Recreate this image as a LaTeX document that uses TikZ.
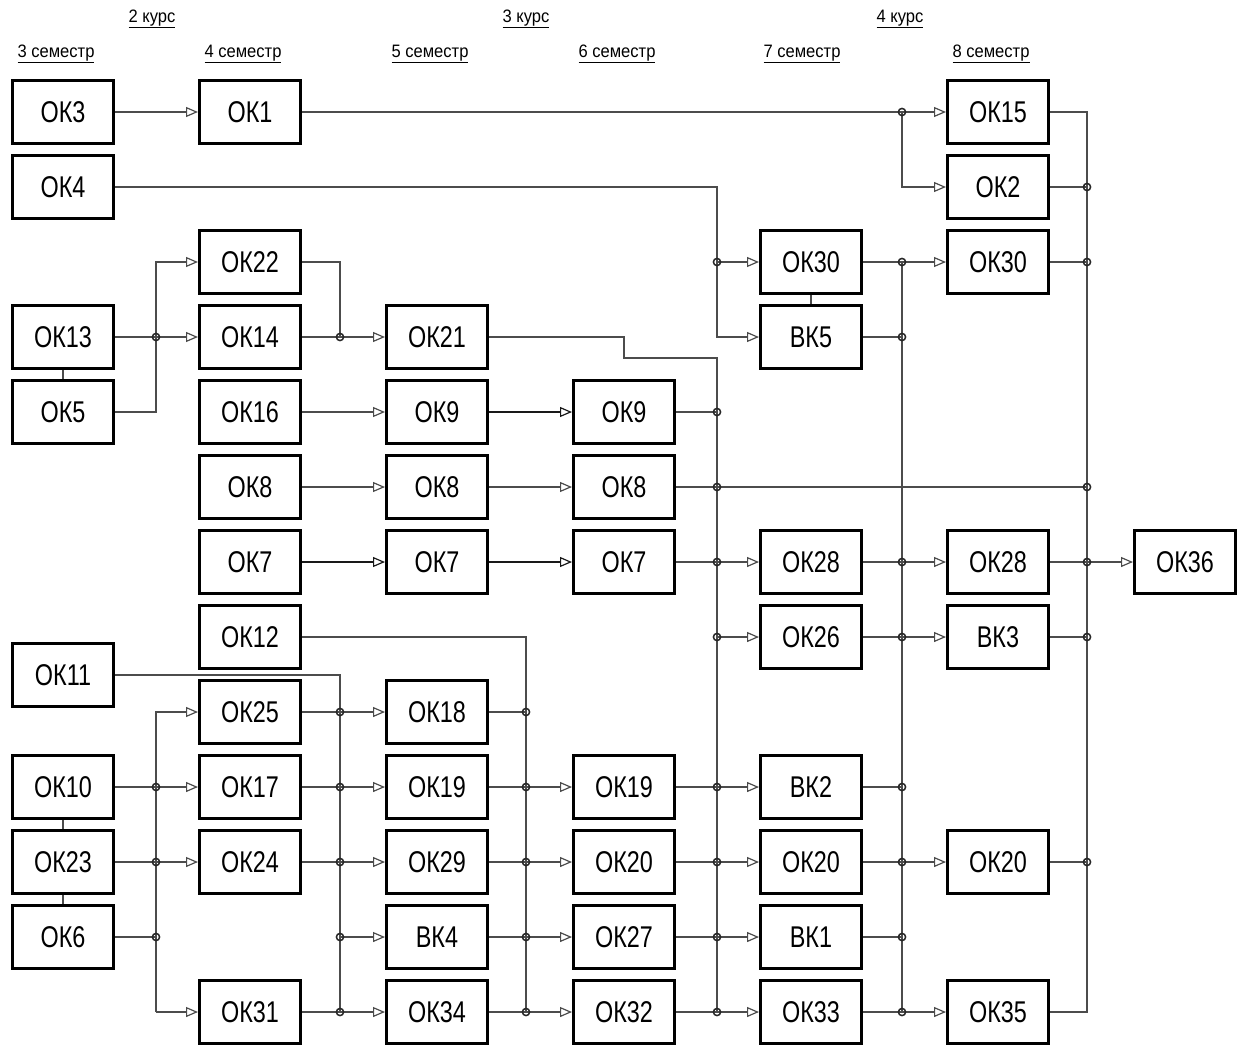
\documentclass[tikz,border=0pt]{standalone}
\usepackage{fontspec}
\setmainfont{Liberation Sans}
\newfontfamily\boxfam{Liberation Sans}[FakeStretch=0.78]
\newfontfamily\headfam{Liberation Sans}[FakeStretch=0.92]
\usetikzlibrary{arrows.meta}
\begin{document}
\begin{tikzpicture}[x=1pt,y=-1pt,
  box/.style={draw=black, line width=3pt, minimum width=101pt, minimum height=63pt, inner sep=0pt, font=\boxfam\fontsize{30}{32}\selectfont},
  head/.style={inner sep=0pt, font=\headfam\fontsize{18}{20}\selectfont},
  conn/.style={line width=1.2pt, draw=black!70},
  thick conn/.style={line width=1.7pt, draw=black!90},
  arr/.style={-{Triangle[open,length=12pt,width=10pt,line width=1.2pt]}},
  jdot/.style={line width=1.5pt, draw=black!85}
]
\useasboundingbox (0,0) rectangle (1246,1045);
% headers
\node[head] (k2) at (152,19) {\underline{2 курс}};
\node[head] (k3) at (526,19) {\underline{3 курс}};
\node[head] (k4) at (900,19) {\underline{4 курс}};
\node[head] (s3) at (56,54) {\underline{3 семестр}};
\node[head] (s4) at (243,54) {\underline{4 семестр}};
\node[head] (s5) at (430,54) {\underline{5 семестр}};
\node[head] (s6) at (617,54) {\underline{6 семестр}};
\node[head] (s7) at (802,54) {\underline{7 семестр}};
\node[head] (s8) at (991,54) {\underline{8 семестр}};
% column 1
\node[box] (ok3) at (63,112) {ОК3};
\node[box] (ok4) at (63,187) {ОК4};
\node[box] (ok13) at (63,337) {ОК13};
\node[box] (ok5) at (63,412) {ОК5};
\node[box] (ok11) at (63,675) {ОК11};
\node[box] (ok10) at (63,787) {ОК10};
\node[box] (ok23) at (63,862) {ОК23};
\node[box] (ok6) at (63,937) {ОК6};
% column 2
\node[box] (ok1) at (250,112) {ОК1};
\node[box] (ok22) at (250,262) {ОК22};
\node[box] (ok14) at (250,337) {ОК14};
\node[box] (ok16) at (250,412) {ОК16};
\node[box] (ok8a) at (250,487) {ОК8};
\node[box] (ok7a) at (250,562) {ОК7};
\node[box] (ok12) at (250,637) {ОК12};
\node[box] (ok25) at (250,712) {ОК25};
\node[box] (ok17) at (250,787) {ОК17};
\node[box] (ok24) at (250,862) {ОК24};
\node[box] (ok31) at (250,1012) {ОК31};
% column 3
\node[box] (ok21) at (437,337) {ОК21};
\node[box] (ok9a) at (437,412) {ОК9};
\node[box] (ok8b) at (437,487) {ОК8};
\node[box] (ok7b) at (437,562) {ОК7};
\node[box] (ok18) at (437,712) {ОК18};
\node[box] (ok19a) at (437,787) {ОК19};
\node[box] (ok29) at (437,862) {ОК29};
\node[box] (bk4) at (437,937) {ВК4};
\node[box] (ok34) at (437,1012) {ОК34};
% column 4
\node[box] (ok9b) at (624,412) {ОК9};
\node[box] (ok8c) at (624,487) {ОК8};
\node[box] (ok7c) at (624,562) {ОК7};
\node[box] (ok19b) at (624,787) {ОК19};
\node[box] (ok20a) at (624,862) {ОК20};
\node[box] (ok27) at (624,937) {ОК27};
\node[box] (ok32) at (624,1012) {ОК32};
% column 5
\node[box] (ok30a) at (811,262) {ОК30};
\node[box] (bk5) at (811,337) {ВК5};
\node[box] (ok28a) at (811,562) {ОК28};
\node[box] (ok26) at (811,637) {ОК26};
\node[box] (bk2) at (811,787) {ВК2};
\node[box] (ok20b) at (811,862) {ОК20};
\node[box] (bk1) at (811,937) {ВК1};
\node[box] (ok33) at (811,1012) {ОК33};
% column 6
\node[box] (ok15) at (998,112) {ОК15};
\node[box] (ok2) at (998,187) {ОК2};
\node[box] (ok30b) at (998,262) {ОК30};
\node[box] (ok28b) at (998,562) {ОК28};
\node[box] (bk3) at (998,637) {ВК3};
\node[box] (ok20c) at (998,862) {ОК20};
\node[box] (ok35) at (998,1012) {ОК35};
% column 7
\node[box] (ok36) at (1185,562) {ОК36};
% bus coordinates
\coordinate (bA) at (156,0);
\coordinate (bB) at (340,0);
\coordinate (bC) at (526,0);
\coordinate (bD) at (717,0);
\coordinate (bE) at (902,0);
\coordinate (bF) at (1087,0);
\coordinate (k1) at (624,358);
% group links
\draw[conn] (ok13.south) -- (ok5.north);
\draw[conn] (ok10.south) -- (ok23.north);
\draw[conn] (ok23.south) -- (ok6.north);
\draw[conn] (ok30a.south) -- (bk5.north);
% top rows
\draw[conn,arr] (ok3) -- (ok1);
\draw[conn,arr] (ok1) -- (ok15);
\draw[conn,arr] (bE |- ok1) |- (ok2.west);
\draw[conn,arr] (ok4.east) -| (bD |- bk5) -- (bk5.west);
\draw[conn,arr] (bD |- ok30a) -- (ok30a.west);
\draw[conn,arr] (ok30a) -- (ok30b);
\draw[conn] (bk5.east) -- (bE |- bk5);
\draw[conn] (bE |- ok30a) -- (bE |- ok33);
\draw[conn] (ok15.east) -| (bF |- ok35) -- (ok35.east);
\draw[conn] (ok2.east) -- (bF |- ok2);
\draw[conn] (ok30b.east) -- (bF |- ok30b);
% OK13 / OK5 block
\draw[conn,arr] (ok13) -- (ok14);
\draw[conn,arr] (ok5.east) -| (bA |- ok22) -- (ok22.west);
\draw[conn] (ok22.east) -| (bB |- ok14);
\draw[conn,arr] (ok14) -- (ok21);
\draw[conn] (ok21.east) -| (k1) -| (bD |- ok32);
% middle chains
\draw[conn,arr] (ok16) -- (ok9a);
\draw[thick conn,arr] (ok9a) -- (ok9b);
\draw[conn,arr] (ok8a) -- (ok8b);
\draw[conn,arr] (ok8b) -- (ok8c);
\draw[thick conn,arr] (ok7a) -- (ok7b);
\draw[thick conn,arr] (ok7b) -- (ok7c);
\draw[conn] (ok9b.east) -- (bD |- ok9b);
\draw[conn] (ok8c.east) -- (bF |- ok8c);
\draw[conn,arr] (ok7c) -- (ok28a);
\draw[conn,arr] (bD |- ok26) -- (ok26.west);
\draw[conn,arr] (ok28a) -- (ok28b);
\draw[conn,arr] (ok26) -- (bk3);
\draw[conn,arr] (ok28b) -- (ok36);
\draw[conn] (bk3.east) -- (bF |- bk3);
% lower block
\draw[conn] (ok12.east) -| (bC |- ok32);
\draw[conn] (ok11.east) -| (bB |- ok31);
\draw[conn,arr] (bA |- ok31) |- (ok25.west);
\draw[conn,arr] (bA |- ok31) -- (ok31.west);
\draw[conn,arr] (ok10) -- (ok17);
\draw[conn,arr] (ok23) -- (ok24);
\draw[conn] (ok6.east) -- (bA |- ok6);
\draw[conn,arr] (ok25) -- (ok18);
\draw[conn,arr] (ok17) -- (ok19a);
\draw[conn,arr] (ok24) -- (ok29);
\draw[conn,arr] (bB |- bk4) -- (bk4.west);
\draw[conn,arr] (ok31) -- (ok34);
\draw[conn] (ok18.east) -- (bC |- ok18);
\draw[conn,arr] (ok19a) -- (ok19b);
\draw[conn,arr] (ok29) -- (ok20a);
\draw[conn,arr] (bk4) -- (ok27);
\draw[conn,arr] (ok34) -- (ok32);
\draw[conn,arr] (ok19b) -- (bk2);
\draw[conn,arr] (ok20a) -- (ok20b);
\draw[conn,arr] (ok27) -- (bk1);
\draw[conn,arr] (ok32) -- (ok33);
\draw[conn] (bk2.east) -- (bE |- bk2);
\draw[conn,arr] (ok20b) -- (ok20c);
\draw[conn] (bk1.east) -- (bE |- bk1);
\draw[conn,arr] (ok33) -- (ok35);
\draw[conn] (ok20c.east) -- (bF |- ok20c);
% junction dots
\foreach \p in {(bE |- ok1),(bD |- ok30a),(bE |- ok30a),(bE |- bk5),(bF |- ok2),(bF |- ok30b),
  (bA |- ok13),(bB |- ok14),(bD |- ok9b),(bD |- ok8c),(bF |- ok8c),(bD |- ok7c),(bD |- ok26),
  (bE |- ok28a),(bE |- ok26),(bF |- ok28b),(bF |- bk3),
  (bA |- ok10),(bA |- ok23),(bA |- ok6),
  (bB |- ok25),(bB |- ok17),(bB |- ok24),(bB |- bk4),(bB |- ok31),
  (bC |- ok18),(bC |- ok19a),(bC |- ok29),(bC |- bk4),(bC |- ok34),
  (bD |- ok19b),(bD |- ok20a),(bD |- ok27),(bD |- ok32),
  (bE |- bk2),(bE |- ok20b),(bE |- bk1),(bE |- ok33),(bF |- ok20c)}
  \draw[jdot] \p circle (3.6pt);
\end{tikzpicture}
\end{document}
